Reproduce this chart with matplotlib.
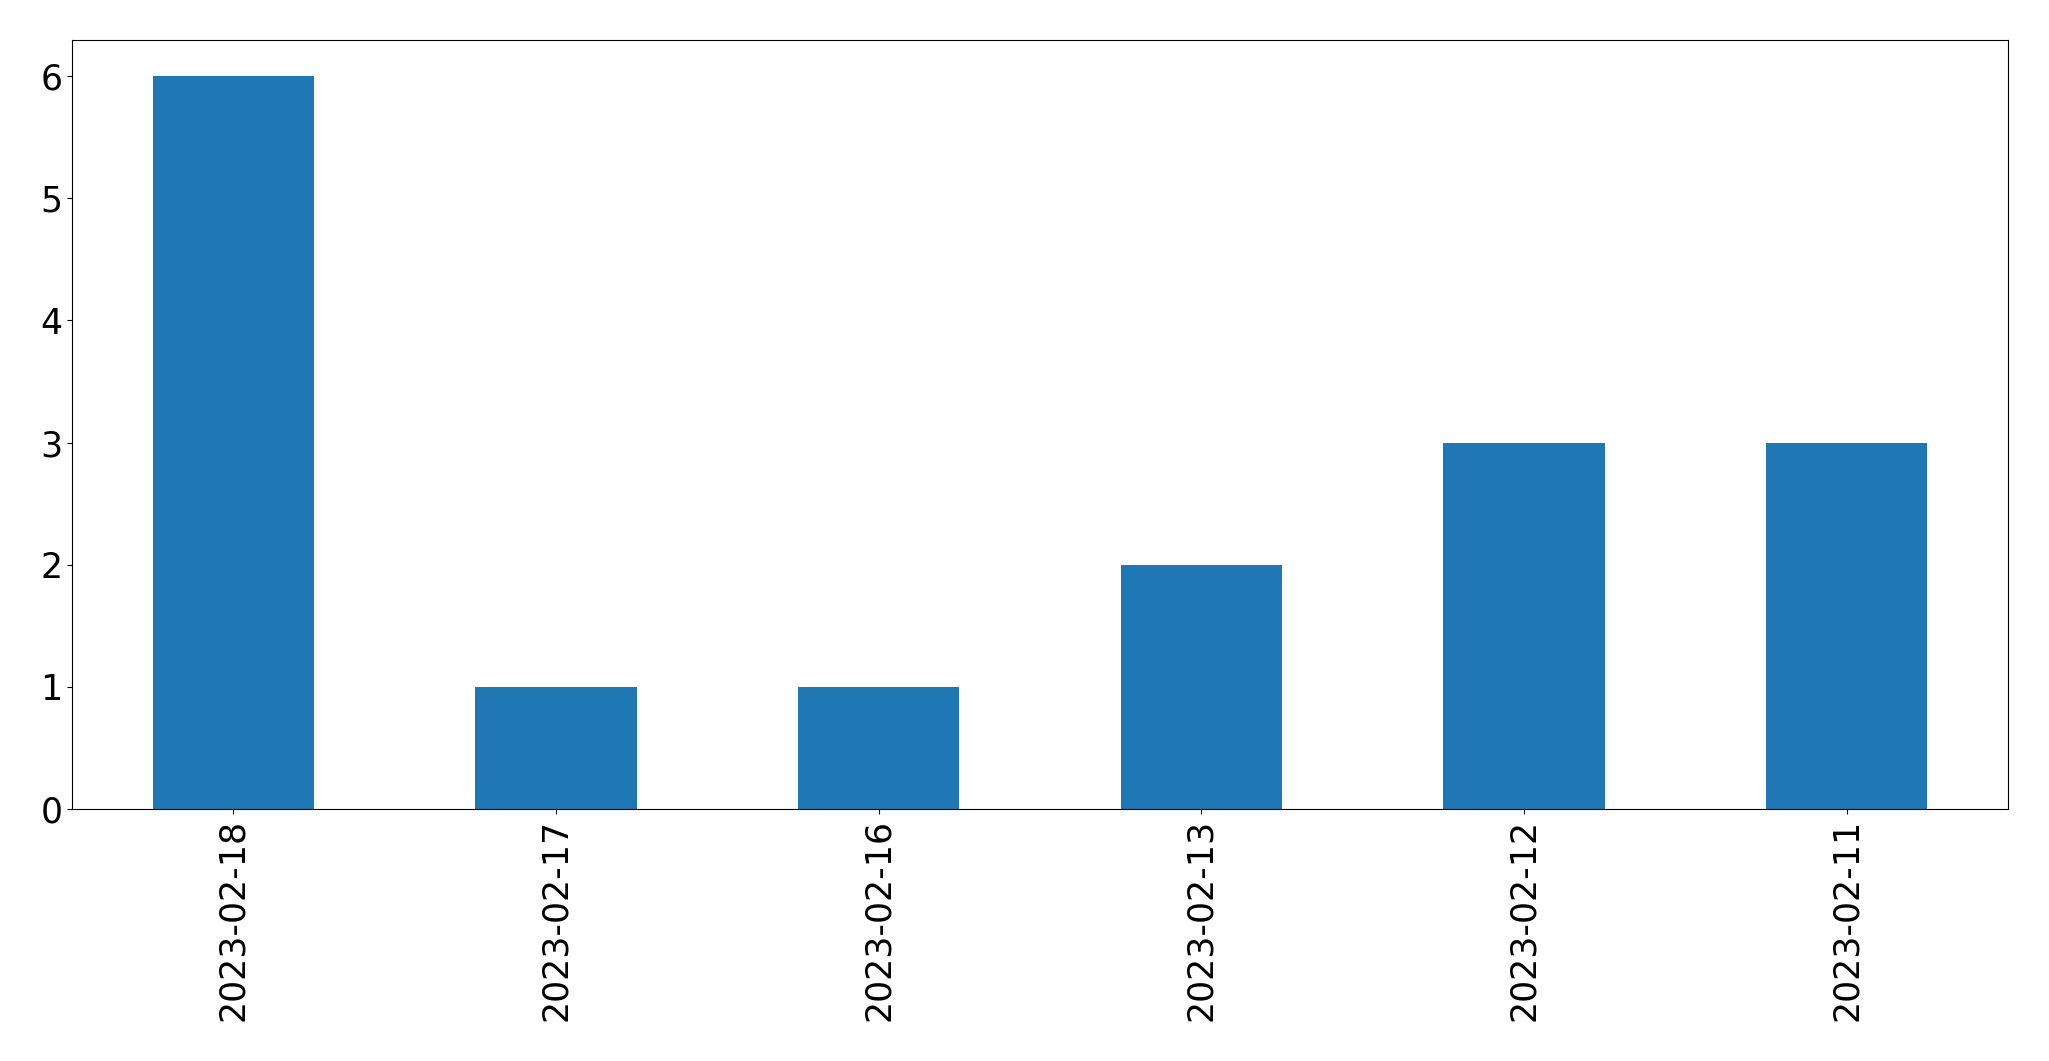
import matplotlib
matplotlib.use("Agg")
import matplotlib.pyplot as plt
import pandas as pd

# Fechas y conteos
fechas = ["2023-02-18", "2023-02-17", "2023-02-16", "2023-02-13", "2023-02-12", "2023-02-11"]
conteos = [6, 1, 1, 2, 3, 3]

serie = pd.Series(conteos, index=fechas)

fig = plt.figure(figsize=(20.49, 10.61), dpi=100)
ax = fig.add_subplot(111)
serie.plot(kind="bar", ax=ax, fontsize=25)
ax.set_xlabel("")

fig.subplots_adjust(left=72 / 2049, right=2008 / 2049, top=1 - 39.5 / 1061, bottom=1 - 809 / 1061)
fig.savefig("out.png", dpi=100)
